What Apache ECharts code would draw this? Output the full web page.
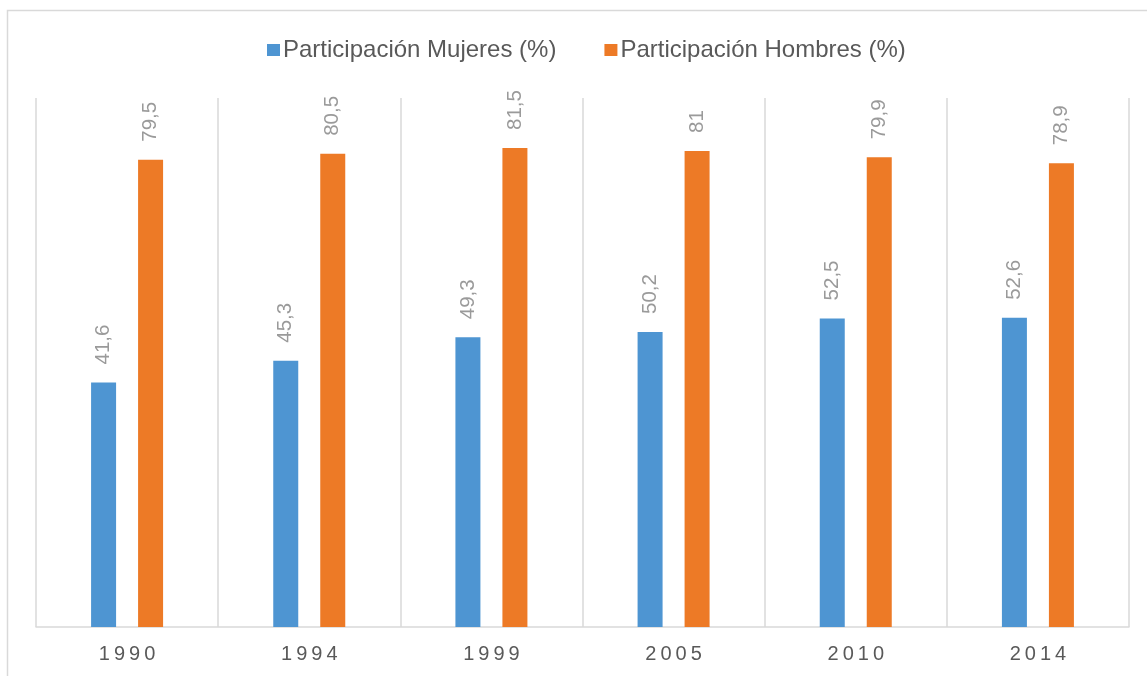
<!DOCTYPE html>
<html>
<head>
<meta charset="utf-8">
<script src="https://cdn.jsdelivr.net/npm/echarts@6/dist/echarts.min.js"></script>
<style>
  html, body { margin: 0; padding: 0; background: #fff; }
  #chart { width: 1147px; height: 676px; }
</style>
</head>
<body>
<div id="chart"></div>
<script>
// datos
var years = ['1990', '1994', '1999', '2005', '2010', '2014'];
var mujeres = [41.6, 45.3, 49.3, 50.2, 52.5, 52.6];
var hombres = [79.5, 80.5, 81.5, 81, 79.9, 78.9];

var chart = echarts.init(document.getElementById('chart'));

function coma(p) {
  return String(p.value).replace('.', ',');
}

var barLabel = {
  show: true,
  position: 'top',
  rotate: 90,
  align: 'left',
  verticalAlign: 'middle',
  distance: 18,
  color: '#9a9a9a',
  fontSize: 20.5,
  fontFamily: 'Liberation Sans',
  formatter: coma
};

var option = {
  animation: false,
  color: ['#4e95d2', '#ed7a26'],
  graphic: [
    {
      type: 'rect',
      shape: { x: 7.5, y: 10.5, width: 1200, height: 700 },
      style: { fill: 'none', stroke: '#d9d9d9', lineWidth: 1.5 },
      silent: true
    }
  ],
  legend: {
    top: 33,
    left: 262,
    itemWidth: 13,
    itemHeight: 12,
    itemGap: 48,
    icon: 'rect',
    textStyle: {
      color: '#595959',
      fontSize: 24,
      fontFamily: 'Liberation Sans',
      padding: [0, 0, 0, -2]
    },
    data: ['Participación Mujeres (%)', 'Participación Hombres (%)']
  },
  grid: {
    left: 36,
    right: 18,
    top: 98,
    bottom: 49
  },
  xAxis: {
    type: 'category',
    data: years,
    axisTick: { show: false },
    axisLine: { lineStyle: { color: '#d9d9d9', width: 1.5 } },
    splitLine: { show: true, lineStyle: { color: '#d9d9d9', width: 1.5 } },
    axisLabel: {
      color: '#595959',
      fontSize: 20,
      fontFamily: 'Liberation Sans',
      margin: 17,
      formatter: function (v) { return v.split('').join('\u2009'); }
    }
  },
  yAxis: {
    type: 'value',
    min: 0,
    max: 90,
    show: false,
    splitLine: { show: false }
  },
  series: [
    {
      name: 'Participación Mujeres (%)',
      type: 'bar',
      data: mujeres,
      barWidth: 25,
      barGap: '88%',
      label: barLabel
    },
    {
      name: 'Participación Hombres (%)',
      type: 'bar',
      data: hombres,
      barWidth: 25,
      barGap: '88%',
      label: barLabel
    }
  ]
};

chart.setOption(option);
</script>
</body>
</html>
